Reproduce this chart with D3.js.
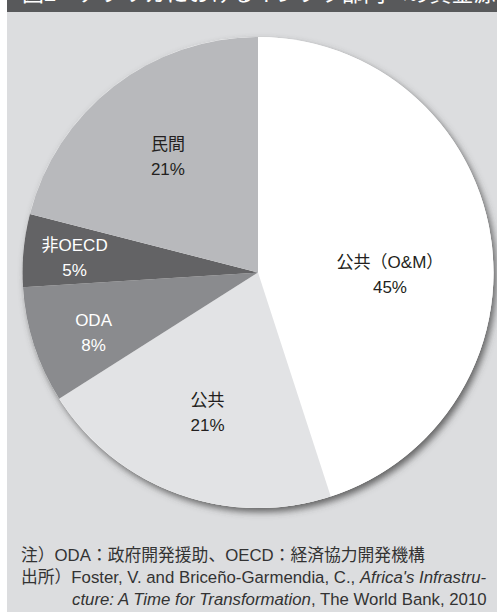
<!DOCTYPE html>
<html><head><meta charset="utf-8">
<script src="https://cdn.jsdelivr.net/npm/d3@7"></script>
<style>
html,body{margin:0;padding:0;background:#fff;}
svg{display:block;}
</style></head>
<body>
<script>
const categories = ["公共（O&M）", "公共", "ODA", "非OECD", "民間"];
const shares = [45, 21, 8, 5, 21];
const sliceColors = ["#ffffff", "#e2e3e5", "#8a8b8e", "#636365", "#b8b9bc"];
const labelColors = ["#231f20", "#231f20", "#ffffff", "#ffffff", "#231f20"];
const titleText = "図2　アフリカにおけるインフラ部門への資金源の内訳";
const noteLine = "注）ODA：政府開発援助、OECD：経済協力開発機構";

const W = 497, H = 612;
const svg = d3.select("body").append("svg").attr("width", W).attr("height", H);

const defs = svg.append("defs");
const f = defs.append("filter").attr("id","shadow").attr("x","-10%").attr("y","-10%").attr("width","125%").attr("height","125%");
f.append("feDropShadow").attr("dx",3).attr("dy",4).attr("stdDeviation",3.5).attr("flood-color","#444").attr("flood-opacity",0.8);

// background panel
svg.append("rect").attr("x",7).attr("y",0).attr("width",W-7).attr("height",H).attr("fill","#dcdddf");
// title bar
svg.append("rect").attr("x",7).attr("y",0).attr("width",W-7).attr("height",12).attr("fill","#58595b");
svg.append("text").attr("x",22).attr("y",1).attr("fill","#ffffff")
  .attr("font-family","'Noto Sans CJK JP', sans-serif").attr("font-size",22)
  .text(titleText);

const cx = 258, cy = 272.5, R = 235.5;
const data = categories.map((c,i)=>({cat:c, v:shares[i], color:sliceColors[i], lc:labelColors[i]}));
const pie = d3.pie().value(d=>d.v).sort(null);
const arcs = pie(data);
const arc = d3.arc().innerRadius(0).outerRadius(R);

const g = svg.append("g").attr("transform",`translate(${cx},${cy})`);
g.append("circle").attr("r",R).attr("fill","#ffffff").attr("filter","url(#shadow)");
g.selectAll("path.slice").data(arcs).enter().append("path")
  .attr("class","slice").attr("d",arc).attr("fill",d=>d.data.color);

// label placement: radius and angular shift (deg) from slice mid-angle
const labelPlace = {"公共（O&M）":[132,10], "公共":[149,0], "ODA":[175,-2], "非OECD":[184,-0.7], "民間":[147,0]};
const lf = "'Liberation Sans','Noto Sans CJK JP',sans-serif";
const lab = g.selectAll("g.lab").data(arcs).enter().append("g").attr("class","lab")
  .attr("transform", d=>{
    const p = labelPlace[d.data.cat];
    const a = (d.startAngle+d.endAngle)/2 + p[1]*Math.PI/180;
    return `translate(${p[0]*Math.sin(a)},${-p[0]*Math.cos(a)})`;
  });
lab.append("text").attr("text-anchor","middle").attr("y",-6.5)
  .attr("font-family",lf).attr("font-size",17)
  .attr("fill",d=>d.data.lc).text(d=>d.data.cat);
lab.append("text").attr("text-anchor","middle").attr("y",18.5)
  .attr("font-family",lf).attr("font-size",17)
  .attr("fill",d=>d.data.lc).text(d=>d.data.v+"%");

// notes
const note = svg.append("g").attr("font-family",lf).attr("font-size",16.8).attr("fill","#333");
note.append("text").attr("x",21).attr("y",561).text(noteLine);
const t2 = note.append("text").attr("x",21).attr("y",583);
t2.append("tspan").text("出所）Foster, V. and Briceño-Garmendia, C., ");
t2.append("tspan").attr("font-style","italic").text("Africa's Infrastru-");
const t3 = note.append("text").attr("x",72).attr("y",605);
t3.append("tspan").attr("font-style","italic").text("cture: A Time for Transformation");
t3.append("tspan").text(", The World Bank, 2010");
</script>
</body></html>
